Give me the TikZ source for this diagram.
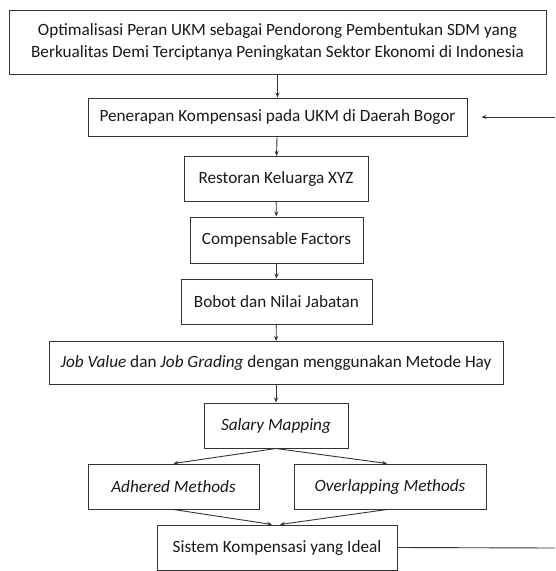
\documentclass[tikz,border=0pt]{standalone}
\usepackage{fontspec}
\setmainfont{Carlito}
\usetikzlibrary{arrows.meta}
\begin{document}
\begin{tikzpicture}[x=1pt,y=-1pt,
  box/.style={draw=black!80, line width=1pt, rectangle, inner sep=0pt, align=center,
    font=\fontsize{17.2}{22.5}\selectfont, text=black!90},
  arr/.style={draw=black!80, line width=0.9pt, -{Stealth[length=5pt,width=4pt]}},
  ln/.style={draw=black!80, line width=0.9pt}]
\useasboundingbox (0,0) rectangle (555,571);
\node[box, minimum width=537pt, minimum height=64pt] (b1) at (277.5,42)
  {Optimalisasi Peran UKM sebagai Pendorong Pembentukan SDM yang\\Berkualitas Demi Terciptanya Peningkatan Sektor Ekonomi di Indonesia};
\node[box, minimum width=379pt, minimum height=38pt] (b2) at (277.5,117)
  {Penerapan Kompensasi pada UKM di Daerah Bogor};
\node[box, minimum width=184pt, minimum height=45pt] (b3) at (276,179)
  {Restoran Keluarga XYZ};
\node[box, minimum width=173pt, minimum height=46pt] (b4) at (276.5,240)
  {Compensable Factors};
\node[box, minimum width=191pt, minimum height=45pt] (b5) at (276.5,301.5)
  {Bobot dan Nilai Jabatan};
\node[box, minimum width=454pt, minimum height=43pt] (b6) at (276,363)
  {\textit{Job Value} dan \textit{Job Grading} dengan menggunakan Metode Hay};
\node[box, minimum width=144pt, minimum height=45pt] (b7) at (276,425.5)
  {\textit{Salary Mapping}};
\node[box, minimum width=171pt, minimum height=45pt] (b8) at (173.5,486.5)
  {\textit{Adhered Methods}};
\node[box, minimum width=192pt, minimum height=45pt] (b9) at (390,486.5)
  {\textit{Overlapping Methods}};
\node[box, minimum width=240pt, minimum height=45pt] (b10) at (277,547.5)
  {Sistem Kompensasi yang Ideal};
\coordinate (fbA) at (555,548);
\coordinate (fbB) at (555,117);
\draw[arr] (b1) -- (b2);
\draw[arr] (b2) -- (b3);
\draw[arr] (b3) -- (b4);
\draw[arr] (b4) -- (b5);
\draw[arr] (b5) -- (b6);
\draw[arr] (b6) -- (b7);
\draw[arr] (b7.south) -- (b8.north);
\draw[arr] (b7.south) -- ([xshift=-3pt]b9.north);
\draw[arr] (b8.south) -- ([xshift=-5pt]b10.north);
\draw[arr] ([xshift=-3pt]b9.south) -- ([xshift=3pt]b10.north);
\draw[ln] (b10.east) -- (fbA);
\draw[arr] (fbB) -- ([xshift=14pt]b2.east);
\end{tikzpicture}
\end{document}
